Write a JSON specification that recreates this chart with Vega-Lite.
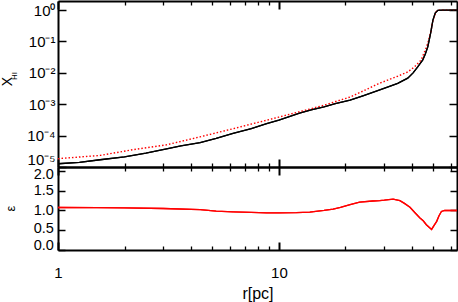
{
  "$schema": "https://vega.github.io/schema/vega-lite/v6.json",
  "padding": {"left": 0, "top": 0, "right": 0, "bottom": 0},
  "config": {
    "view": {"stroke": null},
    "font": "Liberation Sans",
    "axis": {
      "grid": false,
      "domainColor": "black",
      "domainWidth": 2,
      "tickColor": "black",
      "tickWidth": 1.5,
      "labelColor": "black",
      "labelFont": "Liberation Sans",
      "labelFontSize": 15,
      "labelOverlap": false,
      "titleColor": "black",
      "titleFont": "Liberation Sans",
      "titleFontWeight": "normal"
    }
  },
  "datasets": {
    "xhi": [
      {"r": 1, "v": 1.27e-5, "s": "sim"},
      {"r": 1.25, "v": 1.41e-5, "s": "sim"},
      {"r": 1.55, "v": 1.7e-5, "s": "sim"},
      {"r": 2, "v": 2.09e-5, "s": "sim"},
      {"r": 2.5, "v": 2.75e-5, "s": "sim"},
      {"r": 3.1, "v": 3.8e-5, "s": "sim"},
      {"r": 3.6, "v": 4.7e-5, "s": "sim"},
      {"r": 4.4, "v": 6.0e-5, "s": "sim"},
      {"r": 5.2, "v": 8.1e-5, "s": "sim"},
      {"r": 6.2, "v": 1.17e-4, "s": "sim"},
      {"r": 7.5, "v": 1.66e-4, "s": "sim"},
      {"r": 8.8, "v": 2.4e-4, "s": "sim"},
      {"r": 10, "v": 3.1e-4, "s": "sim"},
      {"r": 12.4, "v": 5.2e-4, "s": "sim"},
      {"r": 14, "v": 6.6e-4, "s": "sim"},
      {"r": 16, "v": 8.3e-4, "s": "sim"},
      {"r": 18, "v": 1.04e-3, "s": "sim"},
      {"r": 21, "v": 1.35e-3, "s": "sim"},
      {"r": 24, "v": 1.86e-3, "s": "sim"},
      {"r": 28, "v": 2.7e-3, "s": "sim"},
      {"r": 31, "v": 3.5e-3, "s": "sim"},
      {"r": 34.5, "v": 4.6e-3, "s": "sim"},
      {"r": 38.3, "v": 6.8e-3, "s": "sim"},
      {"r": 40.5, "v": 1.0e-2, "s": "sim"},
      {"r": 42.5, "v": 1.55e-2, "s": "sim"},
      {"r": 44.8, "v": 2.6e-2, "s": "sim"},
      {"r": 46, "v": 4.0e-2, "s": "sim"},
      {"r": 47.2, "v": 6.8e-2, "s": "sim"},
      {"r": 48.6, "v": 0.18, "s": "sim"},
      {"r": 49.8, "v": 0.48, "s": "sim"},
      {"r": 51, "v": 0.8, "s": "sim"},
      {"r": 52.4, "v": 0.98, "s": "sim"},
      {"r": 55, "v": 1.0, "s": "sim"},
      {"r": 64, "v": 1.0, "s": "sim"},
      {"r": 1, "v": 1.84e-5, "s": "model"},
      {"r": 1.55, "v": 2.34e-5, "s": "model"},
      {"r": 2.18, "v": 3.55e-5, "s": "model"},
      {"r": 3.1, "v": 5.1e-5, "s": "model"},
      {"r": 4.39, "v": 9.1e-5, "s": "model"},
      {"r": 6.2, "v": 1.66e-4, "s": "model"},
      {"r": 8.8, "v": 3.1e-4, "s": "model"},
      {"r": 10, "v": 3.9e-4, "s": "model"},
      {"r": 12.4, "v": 5.75e-4, "s": "model"},
      {"r": 16, "v": 9.3e-4, "s": "model"},
      {"r": 21, "v": 1.7e-3, "s": "model"},
      {"r": 24.5, "v": 2.8e-3, "s": "model"},
      {"r": 28, "v": 4.4e-3, "s": "model"},
      {"r": 31.1, "v": 5.9e-3, "s": "model"},
      {"r": 34.5, "v": 7.8e-3, "s": "model"},
      {"r": 38.3, "v": 1.07e-2, "s": "model"},
      {"r": 41.1, "v": 1.55e-2, "s": "model"},
      {"r": 44.1, "v": 2.6e-2, "s": "model"},
      {"r": 46, "v": 5.4e-2, "s": "model"},
      {"r": 47.2, "v": 8.7e-2, "s": "model"},
      {"r": 48.9, "v": 0.23, "s": "model"},
      {"r": 49.8, "v": 0.48, "s": "model"},
      {"r": 51.5, "v": 0.89, "s": "model"},
      {"r": 53.2, "v": 1.0, "s": "model"},
      {"r": 64, "v": 1.0, "s": "model"}
    ],
    "eps": [
      {"r": 1, "e": 1.075},
      {"r": 1.5, "e": 1.07},
      {"r": 2, "e": 1.065},
      {"r": 3, "e": 1.05},
      {"r": 4.4, "e": 1.02},
      {"r": 5.2, "e": 0.985},
      {"r": 6.2, "e": 0.965},
      {"r": 7.5, "e": 0.95},
      {"r": 8.8, "e": 0.94},
      {"r": 10, "e": 0.94},
      {"r": 12, "e": 0.945},
      {"r": 13.8, "e": 0.96},
      {"r": 16, "e": 1.0},
      {"r": 17.6, "e": 1.035},
      {"r": 19, "e": 1.08},
      {"r": 21, "e": 1.15},
      {"r": 23.2, "e": 1.21},
      {"r": 26.6, "e": 1.24},
      {"r": 28.6, "e": 1.25},
      {"r": 30, "e": 1.26},
      {"r": 32.9, "e": 1.285},
      {"r": 35.3, "e": 1.25},
      {"r": 37, "e": 1.18},
      {"r": 39.2, "e": 1.08},
      {"r": 41.5, "e": 0.93},
      {"r": 43.5, "e": 0.81},
      {"r": 45, "e": 0.74},
      {"r": 46.5, "e": 0.64},
      {"r": 48, "e": 0.57},
      {"r": 49.1, "e": 0.52},
      {"r": 50.5, "e": 0.63},
      {"r": 51.8, "e": 0.725},
      {"r": 53, "e": 0.86},
      {"r": 54.4, "e": 0.975},
      {"r": 56.3, "e": 1.0},
      {"r": 64, "e": 1.0}
    ]
  },
  "spacing": 0,
  "bounds": "flush",
  "vconcat": [
    {
      "width": 399,
      "height": 166,
      "data": {"name": "xhi"},
      "resolve": {"axis": {"x": "independent", "y": "independent"}},
      "layer": [
        {
          "transform": [{"filter": "datum.s == 'sim'"}],
          "mark": {"type": "line", "color": "black", "strokeWidth": 1.3},
          "encoding": {
            "x": {
              "field": "r", "type": "quantitative",
              "scale": {"type": "log", "domain": [1, 64], "nice": false},
              "axis": {
                "orient": "bottom", "title": null, "labels": false,
                "values": [1,2,3,4,5,6,7,8,9,10,20,30,40,50,60],
                "tickSize": {"condition": {"test": "datum.value == 1 || datum.value == 10", "value": -8}, "value": -4},
                "tickWidth": {"condition": {"test": "datum.value == 1 || datum.value == 10", "value": 2}, "value": 1.3}
              }
            },
            "y": {
              "field": "v", "type": "quantitative",
              "scale": {"type": "log", "domain": [1e-5, 1.95], "nice": false},
              "axis": {
                "orient": "left",
                "values": [1e-5, 1e-4, 1e-3, 1e-2, 1e-1, 1],
                "labelExpr": "datum.value > 0.5 ? '10⁰' : datum.value > 0.05 ? '10⁻¹' : datum.value > 0.005 ? '10⁻²' : datum.value > 0.0005 ? '10⁻³' : datum.value > 0.00005 ? '10⁻⁴' : '10⁻⁵'",
                "tickSize": -8,
                "labelPadding": 11,
                "labelFlush": true,
                "title": "X",
                "titleFontSize": 14,
                "titleAngle": 270,
                "titleAlign": "center",
                "titleBaseline": "middle",
                "titleX": -50.5,
                "titleY": 80
              }
            }
          }
        },
        {
          "transform": [{"filter": "datum.s == 'model'"}],
          "mark": {"type": "line", "color": "#ff0000", "strokeWidth": 1.4, "strokeDash": [1.5, 2]},
          "encoding": {
            "x": {
              "field": "r", "type": "quantitative",
              "axis": {
                "orient": "top", "title": null, "labels": false,
                "values": [1,2,3,4,5,6,7,8,9,10,20,30,40,50,60],
                "tickSize": {"condition": {"test": "datum.value == 1 || datum.value == 10", "value": -8}, "value": -4},
                "tickWidth": {"condition": {"test": "datum.value == 1 || datum.value == 10", "value": 2}, "value": 1.3}
              }
            },
            "y": {
              "field": "v", "type": "quantitative",
              "axis": {
                "orient": "right", "title": null, "labels": false,
                "values": [1e-5, 1e-4, 1e-3, 1e-2, 1e-1, 1],
                "tickSize": -8
              }
            }
          }
        },
        {
          "transform": [{"filter": "datum.s == 'sim'"}],
          "mark": {"type": "line", "color": "black", "strokeWidth": 1.3},
          "encoding": {
            "x": {"field": "r", "type": "quantitative", "axis": null},
            "y": {
              "field": "v", "type": "quantitative",
              "axis": {
                "orient": "left", "labels": false, "ticks": false, "domain": false,
                "title": "HI",
                "titleFontSize": 8,
                "titleAngle": 270,
                "titleAlign": "center",
                "titleBaseline": "middle",
                "titleX": -43.8,
                "titleY": 74.5
              }
            }
          }
        }
      ]
    },
    {
      "width": 399,
      "height": 83,
      "data": {"name": "eps"},
      "resolve": {"axis": {"x": "independent", "y": "independent"}},
      "layer": [
        {
          "mark": {"type": "line", "color": "#ff0000", "strokeWidth": 1.3},
          "encoding": {
            "x": {
              "field": "r", "type": "quantitative",
              "scale": {"type": "log", "domain": [1, 64], "nice": false},
              "axis": {
                "orient": "bottom",
                "values": [1,2,3,4,5,6,7,8,9,10,20,30,40,50,60],
                "labelExpr": "datum.value == 1 ? '1' : datum.value == 10 ? '10' : ''",
                "labelFlush": false,
                "labelPadding": 23.5,
                "tickSize": {"condition": {"test": "datum.value == 1 || datum.value == 10", "value": -8}, "value": -4},
                "tickWidth": {"condition": {"test": "datum.value == 1 || datum.value == 10", "value": 2}, "value": 1.3},
                "title": "r[pc]",
                "titleFontSize": 16,
                "titleBaseline": "alphabetic",
                "titleY": 48.5
              }
            },
            "y": {
              "field": "e", "type": "quantitative",
              "scale": {"domain": [0, 2.1], "nice": false, "zero": false},
              "axis": {
                "orient": "left",
                "values": [0, 0.5, 1, 1.5, 2],
                "format": ".1f",
                "tickSize": -7,
                "labelPadding": 11.7,
                "labelFontSize": 14.5,
                "labelFlush": true,
                "labelOffset": {"expr": "datum.value == 2 ? 3.5 : datum.value == 0 ? 2.5 : datum.value == 0.5 ? -1.5 : 0"},
                "title": "ε",
                "titleFontSize": 13,
                "titleAngle": 270,
                "titleAlign": "center",
                "titleBaseline": "middle",
                "titleX": -47.5,
                "titleY": 41
              }
            }
          }
        },
        {
          "mark": {"type": "line", "color": "#ff0000", "strokeWidth": 1.3},
          "encoding": {
            "x": {
              "field": "r", "type": "quantitative",
              "axis": {
                "orient": "top", "title": null, "labels": false,
                "values": [1,2,3,4,5,6,7,8,9,10,20,30,40,50,60],
                "tickSize": {"condition": {"test": "datum.value == 1 || datum.value == 10", "value": -8}, "value": -4},
                "tickWidth": {"condition": {"test": "datum.value == 1 || datum.value == 10", "value": 2}, "value": 1.3}
              }
            },
            "y": {
              "field": "e", "type": "quantitative",
              "axis": {
                "orient": "right", "title": null, "labels": false,
                "values": [0, 0.5, 1, 1.5, 2],
                "tickSize": -7
              }
            }
          }
        }
      ]
    }
  ]
}
